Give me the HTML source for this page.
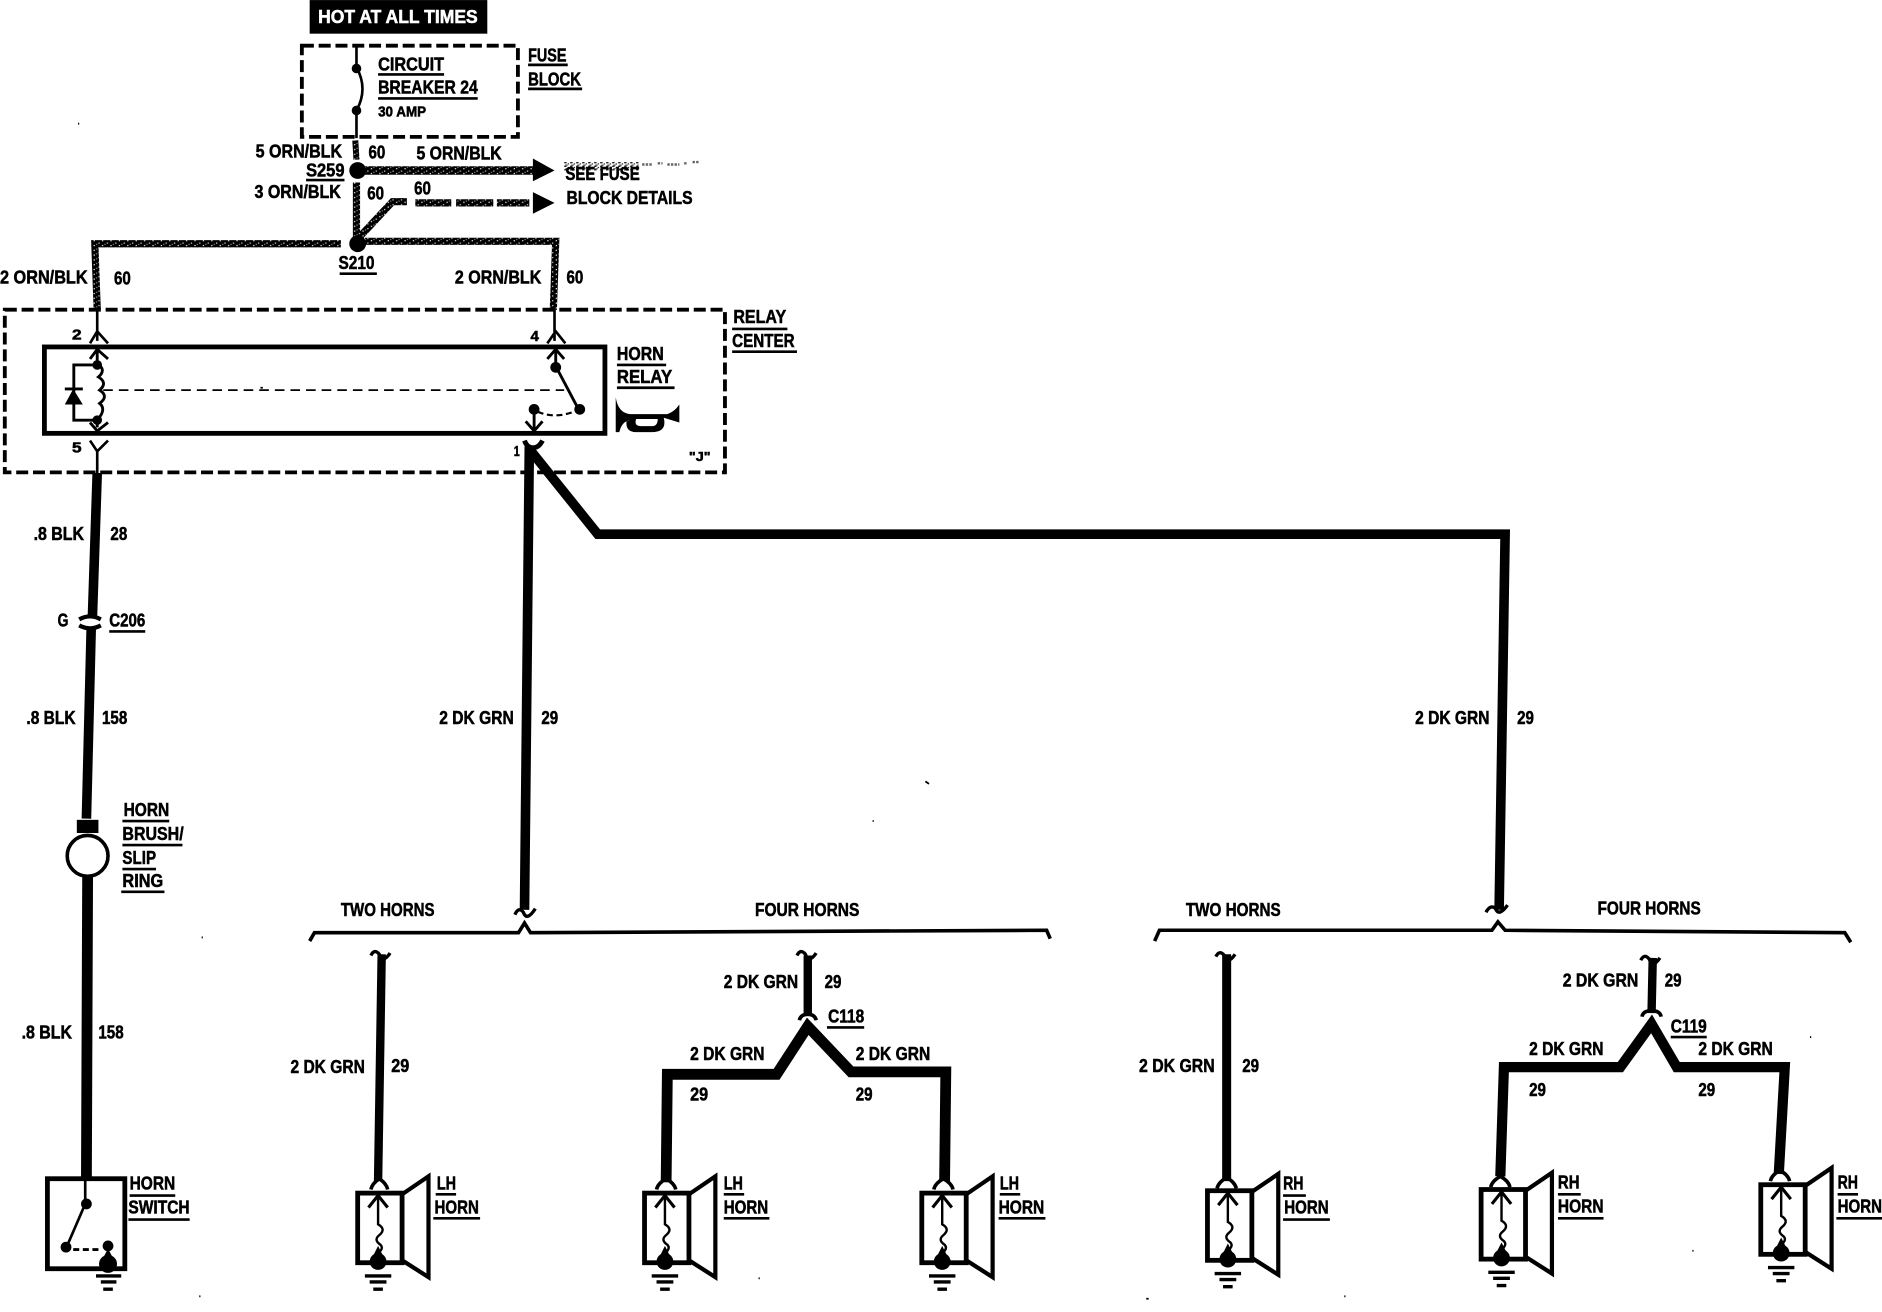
<!DOCTYPE html>
<html>
<head>
<meta charset="utf-8">
<style>
html,body{margin:0;padding:0;background:#fff;width:1882px;height:1312px;overflow:hidden}
svg{display:block}
text{font-family:"Liberation Sans Narrow","Liberation Sans",sans-serif;font-weight:bold;font-size:15.5px;fill:#000;stroke:#000;stroke-width:.45}
.l{fill:none;stroke:#000;stroke-linecap:butt;stroke-linejoin:miter}
.u{fill:none;stroke:#000;stroke-width:2.2}
</style>
</head>
<body>
<svg width="1882" height="1312" viewBox="0 0 1568 1093" xmlns="http://www.w3.org/2000/svg">
<defs>
<pattern id="sp" width="7" height="4" patternUnits="userSpaceOnUse">
<rect width="7" height="4" fill="#000"/>
<rect x="1" y="0" width="1" height="1" fill="#fff"/>
<rect x="5" y="2" width="1" height="1" fill="#ddd"/>
<rect x="3" y="3" width="1" height="1" fill="#888"/>
</pattern>
<pattern id="spl" width="5" height="3" patternUnits="userSpaceOnUse">
<rect width="5" height="3" fill="#fff"/>
<rect x="0" y="0" width="2" height="1" fill="#000"/>
<rect x="3" y="1" width="1" height="1" fill="#000"/>
<rect x="1" y="2" width="2" height="1" fill="#555"/>
</pattern>
<g id="horn">
<rect x="2" y="2" width="37" height="58" class="l" style="stroke-width:4"/>
<path d="M39 3 L61 -12 L61 72 L39 58" class="l" style="stroke-width:3.500"/>
<path d="M19 4 V28 q7 4 1 9 q-5 4 1 8 q3 3 -2 7 V58" class="l" style="stroke-width:2"/>
<path d="M11 14 L19 4 L27 14" class="l" style="stroke-width:2.600"/>
<circle cx="19" cy="59" r="7"/>
<path d="M19 46 l-6 12 h12z"/>
<path d="M8 71 H30 M12 76 H26 M15 82 H23" class="l" style="stroke-width:2.800"/>
</g>
</defs>

<!-- top box -->
<rect x="258" y="0" width="148" height="28" fill="#000"/>
<text x="265" y="19" textLength="133" lengthAdjust="spacingAndGlyphs" style="fill:#fff;stroke:#fff">HOT AT ALL TIMES</text>

<!-- fuse block -->
<rect x="251.500" y="38" width="180" height="76" class="l" style="stroke-width:3.200;stroke-dasharray:10 4"/>
<path d="M297 38 V56 q10 18 0 36 V115" class="l" style="stroke-width:2.200"/>
<circle cx="297" cy="57" r="4"/><circle cx="297" cy="92" r="4"/>
<text x="315" y="58.500" textLength="55" lengthAdjust="spacingAndGlyphs">CIRCUIT</text>
<path class="u" d="M315 62 H370"/>
<text x="315" y="78" textLength="83" lengthAdjust="spacingAndGlyphs">BREAKER 24</text>
<path class="u" d="M315 82 H398"/>
<text x="315" y="97" textLength="40" lengthAdjust="spacingAndGlyphs" style="font-size:12px">30 AMP</text>
<text x="440" y="51" textLength="32" lengthAdjust="spacingAndGlyphs">FUSE</text>
<path class="u" d="M440 54 H473"/>
<text x="440" y="71" textLength="44" lengthAdjust="spacingAndGlyphs">BLOCK</text>
<path class="u" d="M440 74 H485"/>

<!-- top wires -->
<path d="M296 117 L297 133" stroke="url(#sp)" stroke-width="5" fill="none"/>
<path d="M298 142 H446" stroke="url(#sp)" stroke-width="7" fill="none"/>
<circle cx="298" cy="142" r="7"/>
<path d="M444 132 L462 142 L444 151Z"/>
<path d="M297 152 V198" stroke="url(#sp)" stroke-width="6" fill="none"/>
<path d="M299 198 L327 168 H339" stroke="url(#sp)" stroke-width="6" fill="none"/>
<path d="M346 169 H376 M380 169 H411 M414 169 H441" stroke="url(#sp)" stroke-width="6" fill="none"/>
<path d="M444 160 L462 169 L444 178Z"/>
<path d="M81 258 L79 203 H284 M304 201 H463 L461 258" stroke="url(#sp)" stroke-width="6" fill="none"/>
<circle cx="298" cy="203" r="7"/>
<rect x="470" y="135" width="62" height="7" fill="url(#spl)"/>
<path d="M535 137 H544 M548 136 H552 M556 137 H566 M570 136 H573 M577 135 H582" class="l" style="stroke-width:2;stroke:#666;stroke-dasharray:2 1"/>

<text x="213" y="131" textLength="72" lengthAdjust="spacingAndGlyphs">5 ORN/BLK</text>
<text x="307" y="132" textLength="14" lengthAdjust="spacingAndGlyphs">60</text>
<text x="347" y="133" textLength="71" lengthAdjust="spacingAndGlyphs">5 ORN/BLK</text>
<text x="255" y="147" textLength="32" lengthAdjust="spacingAndGlyphs">S259</text>
<path class="u" d="M255 150 H287"/>
<text x="212" y="165" textLength="72" lengthAdjust="spacingAndGlyphs">3 ORN/BLK</text>
<text x="306" y="166" textLength="14" lengthAdjust="spacingAndGlyphs">60</text>
<text x="345" y="162" textLength="14" lengthAdjust="spacingAndGlyphs">60</text>
<text x="471" y="150" textLength="62" lengthAdjust="spacingAndGlyphs">SEE FUSE</text>
<text x="472" y="170" textLength="105" lengthAdjust="spacingAndGlyphs">BLOCK DETAILS</text>
<text x="282" y="224" textLength="30" lengthAdjust="spacingAndGlyphs">S210</text>
<path class="u" d="M283 228 H314"/>
<text x="0" y="236" textLength="73" lengthAdjust="spacingAndGlyphs">2 ORN/BLK</text>
<text x="95" y="237" textLength="14" lengthAdjust="spacingAndGlyphs">60</text>
<text x="379" y="236" textLength="72" lengthAdjust="spacingAndGlyphs">2 ORN/BLK</text>
<text x="472" y="236" textLength="14" lengthAdjust="spacingAndGlyphs">60</text>

<!-- relay center -->
<rect x="4" y="258" width="600" height="135.500" class="l" style="stroke-width:3.200;stroke-dasharray:10 4"/>
<rect x="37" y="289" width="467" height="72" class="l" style="stroke-width:4"/>
<path d="M81 258 V284 M75 286 L81 276 L90 286 M462 258 V284 M456 286 L463 276 L471 286" class="l" style="stroke-width:2.200"/>
<!-- coil -->
<path d="M75 299 L81 291 L90 299 M81 291 V303 q8 5 1 11 q8 5 1 11 q8 5 0 11 q6 5 -2 14 V356 M75 352 L81 359 L90 352" class="l" style="stroke-width:2.400"/>
<circle cx="81" cy="304" r="4"/><circle cx="81" cy="350" r="4"/>
<path d="M81 304 H61.500 V350 H81" class="l" style="stroke-width:2.400"/>
<path d="M61 324 L69 337 H54Z"/><path d="M54 324 H69" class="l" style="stroke-width:2.400"/>
<path d="M86 325 H470" class="l" style="stroke-width:1.500;stroke-dasharray:8 5"/>
<!-- switch -->
<path d="M456 299 L463 291 L470 299 M463 291 V305 L482 341" class="l" style="stroke-width:2.400"/>
<circle cx="463" cy="306" r="4.500"/><circle cx="483" cy="341" r="4.500"/><circle cx="445" cy="341" r="4.500"/>
<path d="M448 343 q14 6 30 0" class="l" style="stroke-width:1.800;stroke-dasharray:5 3"/>
<path d="M445 341 V358 M438 351 L445 359 L452 351" class="l" style="stroke-width:2.400"/>
<path d="M75 367 L81 376 L90 367 M81 376 V394" class="l" style="stroke-width:2.200"/>
<path d="M437 367 q2 6 7 6 q5 0 8 -6" class="l" style="stroke-width:4"/>
<!-- horn icon -->
<path d="M513 331 q2 13 12 14 H556 q6 -2 10 -8 V352 L553 348 q3 12 -10 12 H530 q-9 0 -8 -9 L525 350 q-7 1 -9 10 L513 360Z M530 349 q-2 6 4 6 H543 q5 0 5 -6Z" fill-rule="evenodd"/>

<text x="60" y="283" textLength="8" lengthAdjust="spacingAndGlyphs" style="font-size:12px">2</text>
<text x="442" y="284" textLength="7" lengthAdjust="spacingAndGlyphs" style="font-size:12px">4</text>
<text x="60" y="377" textLength="8" lengthAdjust="spacingAndGlyphs" style="font-size:12px">5</text>
<text x="428" y="380" textLength="5" lengthAdjust="spacingAndGlyphs" style="font-size:12px">1</text>
<text x="611" y="269" textLength="44" lengthAdjust="spacingAndGlyphs">RELAY</text>
<path class="u" d="M610 274 H656"/>
<text x="610" y="289" textLength="52" lengthAdjust="spacingAndGlyphs">CENTER</text>
<path class="u" d="M610 293 H664"/>
<text x="514" y="300" textLength="39" lengthAdjust="spacingAndGlyphs">HORN</text>
<path class="u" d="M514 304 H555"/>
<text x="514" y="319" textLength="46" lengthAdjust="spacingAndGlyphs">RELAY</text>
<path class="u" d="M514 323 H562"/>
<text x="574" y="384" textLength="18" lengthAdjust="spacingAndGlyphs" style="font-size:11px">"J"</text>

<!-- black left wire -->
<path d="M81 394 L77 514" class="l" style="stroke-width:8"/>
<path d="M66 516 q9 -5 18 0 M66 521 q9 5 18 0" class="l" style="stroke-width:3.500"/>
<path d="M76 523 L72 682" class="l" style="stroke-width:8"/>
<rect x="64" y="683" width="18" height="11"/>
<circle cx="73" cy="713" r="17" fill="#fff" stroke="#000" stroke-width="3"/>
<path d="M73 730 L72 982" class="l" style="stroke-width:9"/>
<text x="28" y="450" textLength="42" lengthAdjust="spacingAndGlyphs">.8 BLK</text>
<text x="92" y="450" textLength="14" lengthAdjust="spacingAndGlyphs">28</text>
<text x="48" y="522" textLength="9" lengthAdjust="spacingAndGlyphs">G</text>
<text x="91" y="522" textLength="30" lengthAdjust="spacingAndGlyphs">C206</text>
<path class="u" d="M91 526 H121"/>
<text x="22" y="603" textLength="41" lengthAdjust="spacingAndGlyphs">.8 BLK</text>
<text x="85" y="603" textLength="21" lengthAdjust="spacingAndGlyphs">158</text>
<text x="103" y="680" textLength="38" lengthAdjust="spacingAndGlyphs">HORN</text>
<path class="u" d="M102 684 H141"/>
<text x="102" y="700" textLength="51" lengthAdjust="spacingAndGlyphs">BRUSH/</text>
<path class="u" d="M102 704 H152"/>
<text x="102" y="720" textLength="28" lengthAdjust="spacingAndGlyphs">SLIP</text>
<path class="u" d="M102 724 H130"/>
<text x="102" y="739" textLength="34" lengthAdjust="spacingAndGlyphs">RING</text>
<path class="u" d="M101 743 H137"/>
<text x="18" y="865" textLength="42" lengthAdjust="spacingAndGlyphs">.8 BLK</text>
<text x="82" y="865" textLength="21" lengthAdjust="spacingAndGlyphs">158</text>

<!-- horn switch -->
<rect x="39.500" y="982" width="64.500" height="75" class="l" style="stroke-width:4"/>
<path d="M71 982 V1003 L55 1040" class="l" style="stroke-width:2.200"/>
<circle cx="72" cy="1003" r="4.500"/><circle cx="55" cy="1039" r="4.500"/><circle cx="90" cy="1038" r="4.500"/>
<path d="M61 1041 H82" class="l" style="stroke-width:2.400;stroke-dasharray:5 3"/>
<path d="M90 1038 V1050" class="l" style="stroke-width:2.200"/>
<circle cx="90" cy="1053" r="7.500"/>
<path d="M90 1040 l-6 12 h12z"/>
<path d="M80 1063 H101 M84 1068 H97 M86 1074 H94" class="l" style="stroke-width:2.800"/>
<text x="108" y="991" textLength="38" lengthAdjust="spacingAndGlyphs">HORN</text>
<path class="u" d="M108 996 H146"/>
<text x="107" y="1011" textLength="51" lengthAdjust="spacingAndGlyphs">SWITCH</text>
<path class="u" d="M107 1016 H158"/>

<!-- main green wires -->
<path d="M441 372 L437 758" class="l" style="stroke-width:8"/>
<path d="M441 374 L498 445 H1254 L1249 758" class="l" style="stroke-width:8"/>
<path d="M429 762 q3 -7 7 -2 q3 8 10 -3" class="l" style="stroke-width:2.800"/>
<path d="M1238 760 q4 -7 8 -3 q3 7 10 -3" class="l" style="stroke-width:2.800"/>
<text x="366" y="603" textLength="62" lengthAdjust="spacingAndGlyphs">2 DK GRN</text>
<text x="451" y="603" textLength="14" lengthAdjust="spacingAndGlyphs">29</text>
<text x="1179" y="603" textLength="62" lengthAdjust="spacingAndGlyphs">2 DK GRN</text>
<text x="1264" y="603" textLength="14" lengthAdjust="spacingAndGlyphs">29</text>

<!-- braces -->
<path d="M258 784 L262 777 H432 L437 769 L442 777 L872 775 L875 782" class="l" style="stroke-width:3"/>
<path d="M962 784 L966 775 H1243 L1248 768 L1254 775 L1537 777 L1542 785" class="l" style="stroke-width:3"/>
<text x="284" y="763" textLength="78" lengthAdjust="spacingAndGlyphs">TWO HORNS</text>
<text x="629" y="763" textLength="87" lengthAdjust="spacingAndGlyphs">FOUR HORNS</text>
<text x="988" y="763" textLength="79" lengthAdjust="spacingAndGlyphs">TWO HORNS</text>
<text x="1331" y="762" textLength="86" lengthAdjust="spacingAndGlyphs">FOUR HORNS</text>

<!-- branch 1 -->
<path d="M318 795 L315 984" class="l" style="stroke-width:7"/>
<path d="M309 796 q3 -6 7 -1 q3 8 9 -1" class="l" style="stroke-width:2.800"/>
<path d="M309 991 q1 -5 7 -9 q6 4 7 9" class="l" style="stroke-width:3"/>
<use href="#horn" x="296" y="992"/>
<text x="242" y="894" textLength="62" lengthAdjust="spacingAndGlyphs">2 DK GRN</text>
<text x="326" y="893" textLength="15" lengthAdjust="spacingAndGlyphs">29</text>
<text x="364" y="991" textLength="16" lengthAdjust="spacingAndGlyphs">LH</text>
<path class="u" d="M363 995 H380"/>
<text x="362" y="1011" textLength="37" lengthAdjust="spacingAndGlyphs">HORN</text>
<path class="u" d="M361 1015 H400"/>

<!-- branch 2 -->
<path d="M673 796 V846" class="l" style="stroke-width:7"/>
<path d="M664 796 q3 -6 7 -1 q3 8 9 -1" class="l" style="stroke-width:2.800"/>
<path d="M666 850 q1 -5 7 -5 q6 0 7 5" class="l" style="stroke-width:3"/>
<path d="M555 985 L556 895 H647 L673 855 L709 893 H788 L787 984" class="l" style="stroke-width:9"/>
<path d="M547 991 q1 -5 8 -9 q7 4 8 9" class="l" style="stroke-width:3"/>
<path d="M778 991 q1 -5 8 -9 q7 4 8 9" class="l" style="stroke-width:3"/>
<use href="#horn" x="535" y="992"/>
<use href="#horn" x="766" y="992"/>
<text x="603" y="823" textLength="62" lengthAdjust="spacingAndGlyphs">2 DK GRN</text>
<text x="687" y="823" textLength="14" lengthAdjust="spacingAndGlyphs">29</text>
<text x="690" y="852" textLength="30" lengthAdjust="spacingAndGlyphs">C118</text>
<path class="u" d="M689 856 H720"/>
<text x="575" y="883" textLength="62" lengthAdjust="spacingAndGlyphs">2 DK GRN</text>
<text x="575" y="917" textLength="15" lengthAdjust="spacingAndGlyphs">29</text>
<text x="713" y="883" textLength="62" lengthAdjust="spacingAndGlyphs">2 DK GRN</text>
<text x="713" y="917" textLength="14" lengthAdjust="spacingAndGlyphs">29</text>
<text x="603" y="991" textLength="16" lengthAdjust="spacingAndGlyphs">LH</text>
<path class="u" d="M603 995 H620"/>
<text x="603" y="1011" textLength="37" lengthAdjust="spacingAndGlyphs">HORN</text>
<path class="u" d="M603 1015 H641"/>
<text x="833" y="991" textLength="16" lengthAdjust="spacingAndGlyphs">LH</text>
<path class="u" d="M833 995 H850"/>
<text x="832" y="1011" textLength="38" lengthAdjust="spacingAndGlyphs">HORN</text>
<path class="u" d="M832 1015 H871"/>

<!-- branch 3 -->
<path d="M1022 795 V984" class="l" style="stroke-width:7.500"/>
<path d="M1013 797 q3 -6 7 -1 q3 8 9 -1" class="l" style="stroke-width:2.800"/>
<path d="M1014 990 q1 -5 8 -9 q7 4 8 9" class="l" style="stroke-width:3"/>
<use href="#horn" x="1004" y="990"/>
<text x="949" y="893" textLength="63" lengthAdjust="spacingAndGlyphs">2 DK GRN</text>
<text x="1035" y="893" textLength="14" lengthAdjust="spacingAndGlyphs">29</text>
<text x="1069" y="991" textLength="17" lengthAdjust="spacingAndGlyphs">RH</text>
<path class="u" d="M1069 996 H1088"/>
<text x="1070" y="1011" textLength="37" lengthAdjust="spacingAndGlyphs">HORN</text>
<path class="u" d="M1069 1016 H1108"/>

<!-- branch 4 -->
<path d="M1377 798 L1376 844" class="l" style="stroke-width:7"/>
<path d="M1367 800 q3 -6 7 -1 q3 8 9 -1" class="l" style="stroke-width:2.800"/>
<path d="M1368 847 q1 -5 8 -5 q7 0 8 5" class="l" style="stroke-width:3"/>
<path d="M1250 980 L1253 889 H1350 L1376 853 L1397 889 H1487 L1482 978" class="l" style="stroke-width:8.500"/>
<path d="M1242 989 q1 -5 8 -9 q7 4 8 9" class="l" style="stroke-width:3"/>
<path d="M1475 984 q1 -5 8 -9 q7 4 8 9" class="l" style="stroke-width:3"/>
<use href="#horn" x="1232" y="989"/>
<use href="#horn" x="1465" y="985"/>
<text x="1302" y="822" textLength="63" lengthAdjust="spacingAndGlyphs">2 DK GRN</text>
<text x="1387" y="822" textLength="14" lengthAdjust="spacingAndGlyphs">29</text>
<text x="1392" y="860" textLength="30" lengthAdjust="spacingAndGlyphs">C119</text>
<path class="u" d="M1392 864 H1422"/>
<text x="1274" y="879" textLength="62" lengthAdjust="spacingAndGlyphs">2 DK GRN</text>
<text x="1274" y="913" textLength="14" lengthAdjust="spacingAndGlyphs">29</text>
<text x="1415" y="879" textLength="62" lengthAdjust="spacingAndGlyphs">2 DK GRN</text>
<text x="1415" y="913" textLength="14" lengthAdjust="spacingAndGlyphs">29</text>
<text x="1298" y="990" textLength="18" lengthAdjust="spacingAndGlyphs">RH</text>
<path class="u" d="M1298 995 H1317"/>
<text x="1298" y="1010" textLength="38" lengthAdjust="spacingAndGlyphs">HORN</text>
<path class="u" d="M1298 1015 H1336"/>
<text x="1531" y="990" textLength="17" lengthAdjust="spacingAndGlyphs">RH</text>
<path class="u" d="M1531 995 H1548"/>
<text x="1531" y="1010" textLength="37" lengthAdjust="spacingAndGlyphs">HORN</text>
<path class="u" d="M1530 1015 H1568"/>

<!-- specks -->
<path d="M65 103 h1 M217 323 h2 M771 651 l3 2 M727 684 h1 M168 781 h1 M166 1080 h1 M955 1082 h2 M1120 1080 h1 M1508 864 h1 M632 1065 h1 M1410 1042 h1" class="l" style="stroke-width:1.500"/>
</svg>
</body>
</html>
